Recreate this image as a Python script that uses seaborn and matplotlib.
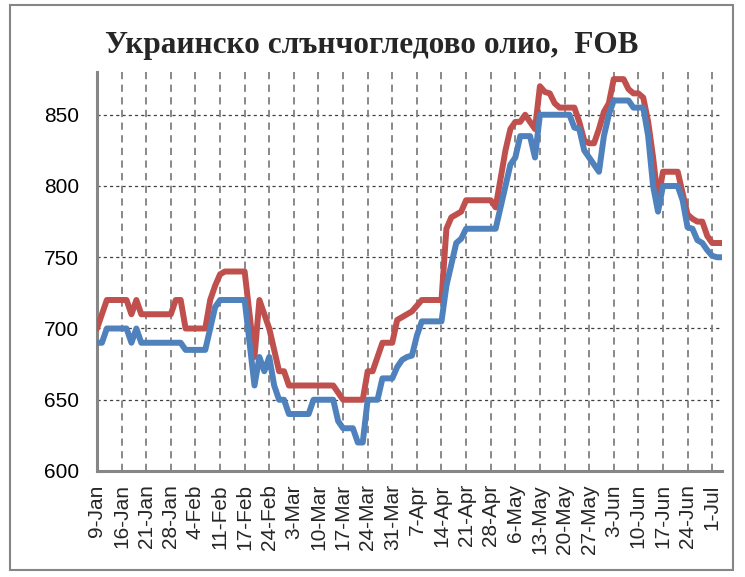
import numpy as np
import pandas as pd
import matplotlib
matplotlib.use("Agg")
import matplotlib.pyplot as plt
import seaborn as sns
from matplotlib.patches import Rectangle

title = "Украинско слънчогледово олио,  FOB"
tick_labels = ["9-Jan", "16-Jan", "21-Jan", "28-Jan", "4-Feb", "11-Feb", "17-Feb",
               "24-Feb", "3-Mar", "10-Mar", "17-Mar", "24-Mar", "31-Mar", "7-Apr",
               "14-Apr", "21-Apr", "28-Apr", "6-May", "13-May", "20-May", "27-May",
               "3-Jun", "10-Jun", "17-Jun", "24-Jun", "1-Jul"]
label_step = 5

red_values = [700, 710, 720, 720, 720, 720, 720, 710, 720, 710,
              710, 710, 710, 710, 710, 710, 720, 720, 700, 700,
              700, 700, 700, 720, 730, 738, 740, 740, 740, 740,
              740, 710, 680, 720, 710, 700, 685, 670, 670, 660,
              660, 660, 660, 660, 660, 660, 660, 660, 660, 655,
              650, 650, 650, 650, 650, 670, 670, 680, 690, 690,
              690, 706, 708, 710, 712, 716, 720, 720, 720, 720,
              720, 770, 778, 780, 782, 790, 790, 790, 790, 790,
              790, 785, 805, 825, 840, 845, 845, 850, 845, 840,
              870, 866, 865, 858, 855, 855, 855, 855, 845, 832,
              830, 830, 840, 852, 858, 875, 875, 875, 868, 865,
              865, 862, 845, 820, 790, 810, 810, 810, 810, 795,
              780, 777, 775, 775, 765, 760, 760, 760]

blue_values = [690, 690, 700, 700, 700, 700, 700, 690, 700, 690,
               690, 690, 690, 690, 690, 690, 690, 690, 685, 685,
               685, 685, 685, 700, 715, 720, 720, 720, 720, 720,
               720, 690, 660, 680, 670, 680, 660, 650, 650, 640,
               640, 640, 640, 640, 650, 650, 650, 650, 650, 635,
               630, 630, 630, 620, 620, 650, 650, 650, 665, 665,
               665, 673, 678, 680, 681, 695, 705, 705, 705, 705,
               705, 730, 745, 760, 763, 770, 770, 770, 770, 770,
               770, 770, 785, 800, 815, 820, 835, 835, 835, 820,
               850, 850, 850, 850, 850, 850, 850, 841, 840, 825,
               820, 815, 810, 835, 850, 860, 860, 860, 860, 855,
               855, 855, 835, 800, 782, 800, 800, 800, 800, 790,
               771, 770, 762, 760, 755, 751, 750, 750]

red_color = "#C0504D"
blue_color = "#4F81BD"

n = len(red_values)
df = pd.DataFrame({
    "idx": list(range(n)) + list(range(len(blue_values))),
    "value": red_values + blue_values,
    "series": ["red"] * n + ["blue"] * len(blue_values),
})

sns.set_theme(style="white")
plt.rcParams["font.family"] = ["Liberation Sans", "DejaVu Sans"]

fig = plt.figure(figsize=(7.45, 5.77), dpi=100)
ax = fig.add_axes([97 / 745, 1 - 471 / 577, (722 - 97) / 745, (471 - 72) / 577])

sns.lineplot(data=df, x="idx", y="value", hue="series",
             palette={"red": red_color, "blue": blue_color},
             hue_order=["red", "blue"], linewidth=4.3, legend=False, ax=ax,
             zorder=3)
for line in ax.get_lines():
    line.set_solid_joinstyle("round")
    line.set_solid_capstyle("round")

ax.set_xlim(0, n - 1)
ax.set_ylim(600, 880)
ax.set_yticks([600, 650, 700, 750, 800, 850])
xt = [i * label_step for i in range(len(tick_labels))]
ax.set_xticks(xt)
ax.set_xticklabels(tick_labels, rotation=90, fontsize=15)
ax.tick_params(axis="y", labelsize=15, pad=13, length=0, colors="black")
ax.tick_params(axis="x", direction="inout", length=7, width=1.2,
               color="#868686", pad=6)
ax.set_xlabel("")
ax.set_ylabel("")

for y in [650, 700, 750, 800, 850]:
    ax.axhline(y, color="#404040", lw=0.9, ls=(0, (2.5, 2.5)), zorder=1)
for x in xt[1:]:
    ax.axvline(x, color="#808080", lw=1.3, ls=(0, (4, 3)), zorder=1)

for s in ["top", "right"]:
    ax.spines[s].set_visible(False)
for s in ["left", "bottom"]:
    ax.spines[s].set_color("#868686")
    ax.spines[s].set_linewidth(2.2)

fig.text(372 / 745, 1 - 46 / 577, title, ha="center", va="center",
         fontsize=22.5, fontweight="bold", family="Liberation Serif")

fig.patches.append(Rectangle((10 / 745, 1 - 570 / 577), 723 / 745, 565 / 577,
                             transform=fig.transFigure, fill=False,
                             edgecolor="#868686", lw=1.5))

fig.savefig("out.png", dpi=100)
